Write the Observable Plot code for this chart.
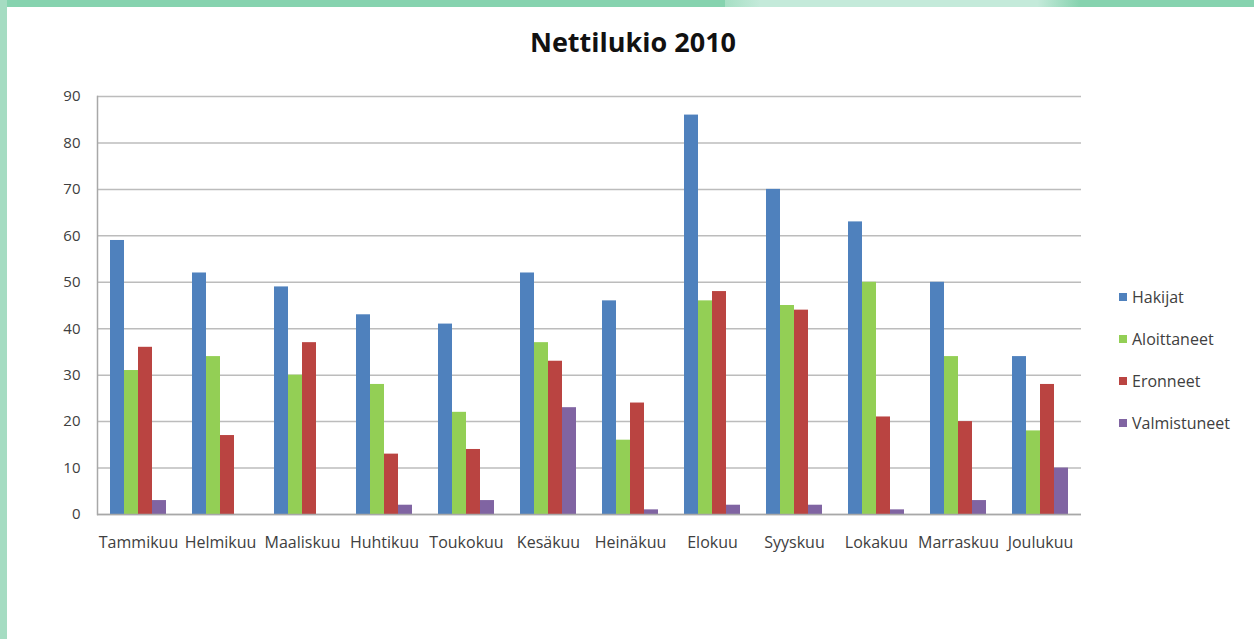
<!DOCTYPE html>
<html>
<head>
<meta charset="utf-8">
<script src="https://cdn.jsdelivr.net/npm/d3@7"></script>
<script src="https://cdn.jsdelivr.net/npm/@observablehq/plot@0.6"></script>
<style>
  body { margin: 0; background: #fff; }
  #wrap { position: relative; width: 1254px; height: 639px; background: #fff; overflow: hidden; font-family: "Open Sans", sans-serif; }
  .band { position: absolute; }
  #title { position: absolute; left: 0; width: 1266px; top: 22px; text-align: center; font-weight: bold; font-size: 27px; color: #111; line-height: 40px; }
  #chart { position: absolute; left: 0; top: 0; }
  #legend { position: absolute; left: 1119px; top: 276px; font-size: 16px; color: #404040; }
  .item { display: flex; align-items: center; height: 42px; margin-top: 0; }
  .item span.sw { display: inline-block; width: 8px; height: 8px; margin-right: 5px; }
</style>
</head>
<body>
<div id="wrap">
  <div class="band" style="left:0;top:0;width:1254px;height:7px;background:#86D3AF"></div>
  <div class="band" style="left:725px;top:0;width:355px;height:7px;background:linear-gradient(90deg,#a6dfc4 0%,#c4eada 10%,#c4eada 88%,#86D3AF 100%)"></div>
  <div class="band" style="left:0;top:0;width:7px;height:639px;background:#a5dcc2"></div>
  <div id="chart"></div>
  <div id="title">Nettilukio 2010</div>
  <div id="legend"></div>
</div>
<script>
const months = ["Tammikuu","Helmikuu","Maaliskuu","Huhtikuu","Toukokuu","Kesäkuu","Heinäkuu","Elokuu","Syyskuu","Lokakuu","Marraskuu","Joulukuu"];
const series = ["Hakijat","Aloittaneet","Eronneet","Valmistuneet"];
const hakijat      = [59,52,49,43,41,52,46,86,70,63,50,34];
const aloittaneet  = [31,34,30,28,22,37,16,46,45,50,34,18];
const eronneet     = [36,17,37,13,14,33,24,48,44,21,20,28];
const valmistuneet = [3,0,0,2,3,23,1,2,2,1,3,10];
const colors = ["#4F81BD","#93CF55","#BA4441","#8064A2"];
const yTicks = [0,10,20,30,40,50,60,70,80,90];

const seriesValues = [hakijat, aloittaneet, eronneet, valmistuneet];
const rows = [];
months.forEach((m, i) => series.forEach((s, j) => rows.push({month: m, series: s, value: seriesValues[j][i]})));

const chart = Plot.plot({
  width: 1254,
  height: 639,
  marginLeft: 93,
  marginRight: 169,
  marginTop: 96,
  marginBottom: 125,
  style: {fontFamily: "Open Sans, sans-serif", fontSize: "15px", color: "#404040", background: "transparent"},
  fx: {domain: months, padding: 0, label: null},
  x: {domain: series, axis: null, paddingInner: 0, paddingOuter: 0.756},
  y: {domain: [0, 90], label: null},
  color: {domain: series, range: colors},
  marks: [
    Plot.gridY(yTicks, {stroke: "#bcbcbc", strokeOpacity: 1, strokeWidth: 1.5}),
    Plot.barY(rows, {fx: "month", x: "series", y: "value", fill: "series"}),
    Plot.ruleY([0], {stroke: "#a8a8a8", strokeWidth: 1.5}),
    Plot.frame({anchor: "left", stroke: "#a8a8a8", strokeWidth: 1.5, facet: "super"}),
    Plot.axisY(yTicks, {tickSize: 0, tickPadding: 17, label: null, fontSize: 15}),
    Plot.axisFx({anchor: "bottom", tickSize: 0, tickPadding: 22, label: null, fontSize: 16})
  ]
});
document.getElementById("chart").appendChild(chart);

const legend = document.getElementById("legend");
series.forEach((s, j) => {
  const item = document.createElement("div");
  item.className = "item";
  item.innerHTML = `<span class="sw" style="background:${colors[j]}"></span><span>${s}</span>`;
  legend.appendChild(item);
});
</script>
</body>
</html>
